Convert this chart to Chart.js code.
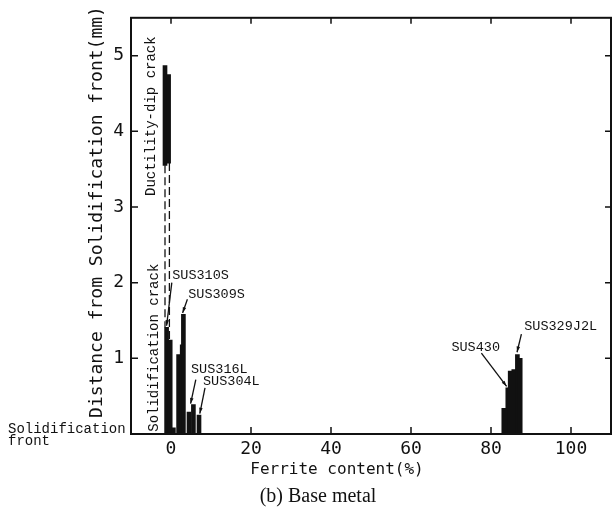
<!DOCTYPE html>
<html>
<head>
<meta charset="utf-8">
<script src="https://cdn.jsdelivr.net/npm/chart.js@4.4.0/dist/chart.umd.min.js"></script>
<style>
  html, body { margin: 0; padding: 0; background: #fff; }
  #wrap { width: 614px; height: 508px; }
</style>
</head>
<body>
<div id="wrap"><canvas id="chart"></canvas></div>
<script>
// Crack bars: ferrite content (%) and extent (mm from solidification front)
const barX    = [-1.5, -0.6, -1.1, -0.2, 0.6, 1.9, 2.8, 3.1, 4.5, 5.6, 7.0, 83.2, 84.2, 84.8, 85.7, 86.6, 87.3];
const barLow  = [3.55, 3.58, 0, 0, 0, 0, 0, 0, 0, 0, 0, 0, 0, 0, 0, 0, 0];
const barHigh = [4.87, 4.75, 1.41, 1.24, 0.08, 1.05, 1.18, 1.58, 0.29, 0.39, 0.25, 0.34, 0.61, 0.83, 0.85, 1.05, 1.0];

// Dashed links between ductility-dip and solidification cracks
const dashX    = [-1.5, -0.4];
const dashTop  = [3.55, 3.58];
const dashBot  = [1.41, 1.24];

// Steel grade labels and their leader lines
const gradeNames = ['SUS310S', 'SUS309S', 'SUS316L', 'SUS304L', 'SUS430', 'SUS329J2L'];
const gradeX     = [0.3, 4.3, 5.0, 8.0, 70.1, 88.3];
const gradeY     = [2.09, 1.84, 0.85, 0.69, 1.15, 1.42];
const leadFromX  = [0.2, 4.1, 6.2, 8.5, 77.6, 87.6];
const leadFromY  = [2.0, 1.78, 0.72, 0.61, 1.07, 1.32];
const leadToX    = [-1.1, 2.9, 4.9, 7.2, 83.9, 86.5];
const leadToY    = [1.43, 1.6, 0.4, 0.27, 0.63, 1.08];

// Rotated crack type labels
const crackNames = ['Ductility-dip crack', 'Solidification crack'];
const crackX     = [-5.0, -4.3];
const crackY     = [4.2, 1.14];

const xTicks = [0, 20, 40, 60, 80, 100];
const yTicks = [1, 2, 3, 4, 5];

const INK = '#111';
const MONO = '"DejaVu Sans Mono", monospace';
const TYPE = '"Liberation Mono", monospace';

const datasets = [{
    type: 'bar',
    data: barX.map((x, i) => ({ x: x, y: [barLow[i], barHigh[i]] })),
    backgroundColor: INK,
    borderWidth: 0,
    barThickness: 4
}];

dashX.forEach((x, i) => {
    datasets.push({
        type: 'line',
        data: [{ x: x, y: dashTop[i] }, { x: x, y: dashBot[i] }],
        borderColor: INK,
        borderWidth: 1.3,
        borderDash: [8, 4],
        pointRadius: 0
    });
});

gradeNames.forEach((n, i) => {
    datasets.push({
        type: 'line',
        data: [{ x: leadFromX[i], y: leadFromY[i] }, { x: leadToX[i], y: leadToY[i] }],
        borderColor: INK,
        borderWidth: 1.3,
        pointRadius: 0
    });
});

// Box, inward ticks and annotation text
const extras = {
    id: 'extras',
    afterDraw(chart) {
        const { ctx, chartArea: a, scales: { x, y } } = chart;
        ctx.save();
        ctx.strokeStyle = INK;
        ctx.lineWidth = 2;
        ctx.strokeRect(a.left, a.top, a.right - a.left, a.bottom - a.top);

        ctx.lineWidth = 1.5;
        ctx.beginPath();
        x.ticks.forEach(t => {
            const px = x.getPixelForValue(t.value);
            ctx.moveTo(px, a.bottom); ctx.lineTo(px, a.bottom - 7);
            ctx.moveTo(px, a.top); ctx.lineTo(px, a.top + 6);
        });
        y.ticks.forEach(t => {
            const py = y.getPixelForValue(t.value);
            ctx.moveTo(a.left, py); ctx.lineTo(a.left + 7, py);
            ctx.moveTo(a.right, py); ctx.lineTo(a.right - 6, py);
        });
        ctx.stroke();

        // arrow heads on leader lines
        ctx.fillStyle = INK;
        gradeNames.forEach((n, i) => {
            const x0 = x.getPixelForValue(leadFromX[i]), y0 = y.getPixelForValue(leadFromY[i]);
            const x1 = x.getPixelForValue(leadToX[i]), y1 = y.getPixelForValue(leadToY[i]);
            const ang = Math.atan2(y1 - y0, x1 - x0);
            ctx.beginPath();
            ctx.moveTo(x1, y1);
            ctx.lineTo(x1 - 6 * Math.cos(ang - 0.3), y1 - 6 * Math.sin(ang - 0.3));
            ctx.lineTo(x1 - 6 * Math.cos(ang + 0.3), y1 - 6 * Math.sin(ang + 0.3));
            ctx.closePath();
            ctx.fill();
        });

        // grade labels
        ctx.font = '13.5px ' + TYPE;
        ctx.textAlign = 'left';
        ctx.textBaseline = 'middle';
        gradeNames.forEach((n, i) => {
            ctx.fillText(n, x.getPixelForValue(gradeX[i]), y.getPixelForValue(gradeY[i]));
        });

        // crack labels, rotated
        ctx.font = '14px ' + TYPE;
        ctx.textAlign = 'center';
        crackNames.forEach((n, i) => {
            ctx.save();
            ctx.translate(x.getPixelForValue(crackX[i]), y.getPixelForValue(crackY[i]));
            ctx.rotate(-Math.PI / 2);
            ctx.fillText(n, 0, 0);
            ctx.restore();
        });

        // axis titles and caption
        ctx.font = '18px ' + MONO;
        ctx.save();
        ctx.translate(97, 212);
        ctx.rotate(-Math.PI / 2);
        ctx.fillText('Distance from Solidification front(mm)', 0, 0);
        ctx.restore();

        ctx.font = '16px ' + MONO;
        ctx.fillText('Ferrite content(%)', 337, 470);

        ctx.font = '20px "Liberation Serif", serif';
        ctx.fillText('(b) Base metal', 318, 497);

        ctx.font = '14px ' + TYPE;
        ctx.textAlign = 'left';
        ctx.fillText('Solidification', 8, 429);
        ctx.fillText('front', 8, 441);
        ctx.restore();
    }
};

new Chart(document.getElementById('chart'), {
    type: 'bar',
    data: { datasets: datasets },
    options: {
        responsive: true,
        maintainAspectRatio: false,
        animation: false,
        layout: { padding: { top: 10, right: 3, left: 0, bottom: 0 } },
        plugins: { legend: { display: false }, tooltip: { enabled: false } },
        scales: {
            x: {
                type: 'linear',
                offset: false,
                min: -10,
                max: 110,
                afterBuildTicks: s => { s.ticks = xTicks.map(v => ({ value: v })); },
                afterFit: s => { s.height = 74; },
                grid: { display: false, drawTicks: false },
                border: { display: false },
                ticks: { color: INK, padding: 5, maxRotation: 0, font: { family: MONO, size: 18 } }
            },
            y: {
                type: 'linear',
                min: 0,
                max: 5.5,
                afterBuildTicks: s => { s.ticks = yTicks.map(v => ({ value: v })); },
                afterFit: s => { s.width = 131; },
                grid: { display: false, drawTicks: false },
                border: { display: false },
                ticks: { color: INK, padding: 7, font: { family: MONO, size: 18 } }
            }
        }
    },
    plugins: [extras]
});
</script>
</body>
</html>
